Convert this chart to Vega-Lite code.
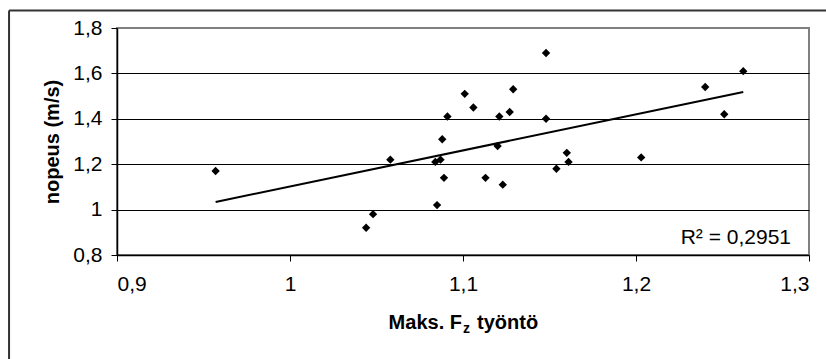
{
  "$schema": "https://vega.github.io/schema/vega-lite/v6.json",
  "width": 692,
  "height": 227,
  "autosize": {"type": "none"},
  "padding": {"left": 117, "top": 28, "right": 17, "bottom": 104},
  "background": "white",
  "config": {
    "font": "Liberation Sans",
    "view": {"stroke": "#808080", "strokeWidth": 2},
    "axis": {
      "domainColor": "black",
      "domainWidth": 1.5,
      "tickColor": "black",
      "tickWidth": 1,
      "labelColor": "black",
      "labelFont": "Liberation Sans",
      "labelFontSize": 21,
      "titleFont": "Liberation Sans",
      "titleColor": "black"
    }
  },
  "layer": [
    {
      "data": {
        "values": [
          {"fz": 0.957, "nopeus": 1.17},
          {"fz": 1.148, "nopeus": 1.69},
          {"fz": 1.101, "nopeus": 1.51},
          {"fz": 1.129, "nopeus": 1.53},
          {"fz": 1.106, "nopeus": 1.45},
          {"fz": 1.091, "nopeus": 1.41},
          {"fz": 1.121, "nopeus": 1.41},
          {"fz": 1.127, "nopeus": 1.43},
          {"fz": 1.148, "nopeus": 1.40},
          {"fz": 1.088, "nopeus": 1.31},
          {"fz": 1.120, "nopeus": 1.28},
          {"fz": 1.058, "nopeus": 1.22},
          {"fz": 1.084, "nopeus": 1.21},
          {"fz": 1.087, "nopeus": 1.22},
          {"fz": 1.160, "nopeus": 1.25},
          {"fz": 1.161, "nopeus": 1.21},
          {"fz": 1.154, "nopeus": 1.18},
          {"fz": 1.089, "nopeus": 1.14},
          {"fz": 1.113, "nopeus": 1.14},
          {"fz": 1.123, "nopeus": 1.11},
          {"fz": 1.085, "nopeus": 1.02},
          {"fz": 1.048, "nopeus": 0.98},
          {"fz": 1.044, "nopeus": 0.92},
          {"fz": 1.262, "nopeus": 1.61},
          {"fz": 1.240, "nopeus": 1.54},
          {"fz": 1.251, "nopeus": 1.42},
          {"fz": 1.203, "nopeus": 1.23}
        ]
      },
      "layer": [
        {
          "mark": {"type": "point", "shape": "diamond", "filled": true, "color": "black", "size": 70, "opacity": 1},
          "encoding": {
            "x": {
              "field": "fz", "type": "quantitative",
              "scale": {"domain": [0.9, 1.3], "nice": false, "zero": false},
              "axis": {
                "values": [0.9, 1.0, 1.1, 1.2, 1.3],
                "labelExpr": "replace(format(datum.value, '~g'), '.', ',')",
                "grid": false,
                "tickSize": 6,
                "labelPadding": 12,
                "title": null
              }
            },
            "y": {
              "field": "nopeus", "type": "quantitative",
              "scale": {"domain": [0.8, 1.8], "nice": false, "zero": false},
              "axis": {
                "values": [0.8, 1.0, 1.2, 1.4, 1.6, 1.8],
                "labelExpr": "replace(format(datum.value, '~g'), '.', ',')",
                "grid": true,
                "gridColor": {"condition": {"test": "datum.value >= 1.79 || datum.value <= 0.81", "value": "transparent"}, "value": "black"},
                "gridWidth": 1,
                "tickSize": 6,
                "labelPadding": 9,
                "labelBaseline": "middle",
                "title": "nopeus (m/s)",
                "titleFontSize": 20,
                "titleFontWeight": "bold",
                "titleAngle": -90,
                "titleX": -65,
                "titleY": 113.5,
                "titleAlign": "center",
                "titleBaseline": "middle"
              }
            }
          }
        },
        {
          "transform": [{"regression": "nopeus", "on": "fz"}],
          "mark": {"type": "line", "color": "black", "strokeWidth": 2},
          "encoding": {
            "x": {"field": "fz", "type": "quantitative", "scale": {"domain": [0.9, 1.3], "nice": false, "zero": false}},
            "y": {"field": "nopeus", "type": "quantitative", "scale": {"domain": [0.8, 1.8], "nice": false, "zero": false}}
          }
        }
      ]
    },
    {
      "data": {"values": [{}]},
      "mark": {"type": "text", "text": "R² = 0,2951", "align": "right", "baseline": "alphabetic", "fontSize": 21, "color": "black"},
      "encoding": {
        "x": {"datum": 1.2896, "type": "quantitative", "scale": {"domain": [0.9, 1.3], "nice": false, "zero": false}},
        "y": {"datum": 0.8485, "type": "quantitative", "scale": {"domain": [0.8, 1.8], "nice": false, "zero": false}}
      }
    },
    {
      "data": {"values": [{}]},
      "mark": {"type": "text", "text": "Maks. F", "align": "right", "baseline": "alphabetic", "fontSize": 20, "fontWeight": "bold", "color": "black", "clip": false},
      "encoding": {
        "x": {"datum": 1.0994, "type": "quantitative", "scale": {"domain": [0.9, 1.3], "nice": false, "zero": false}},
        "y": {"datum": 0.4740, "type": "quantitative", "scale": {"domain": [0.8, 1.8], "nice": false, "zero": false}}
      }
    },
    {
      "data": {"values": [{}]},
      "mark": {"type": "text", "text": "z", "align": "left", "baseline": "alphabetic", "fontSize": 14, "fontWeight": "bold", "color": "black", "clip": false},
      "encoding": {
        "x": {"datum": 1.1, "type": "quantitative", "scale": {"domain": [0.9, 1.3], "nice": false, "zero": false}},
        "y": {"datum": 0.4564, "type": "quantitative", "scale": {"domain": [0.8, 1.8], "nice": false, "zero": false}}
      }
    },
    {
      "data": {"values": [{}]},
      "mark": {"type": "text", "text": "työntö", "align": "left", "baseline": "alphabetic", "fontSize": 20, "fontWeight": "bold", "color": "black", "clip": false},
      "encoding": {
        "x": {"datum": 1.1081, "type": "quantitative", "scale": {"domain": [0.9, 1.3], "nice": false, "zero": false}},
        "y": {"datum": 0.4740, "type": "quantitative", "scale": {"domain": [0.8, 1.8], "nice": false, "zero": false}}
      }
    },
    {
      "data": {"values": [{}]},
      "mark": {"type": "rule", "stroke": "#333333", "strokeWidth": 2, "clip": false},
      "encoding": {
        "x": {"datum": 0.8376, "type": "quantitative", "scale": {"domain": [0.9, 1.3], "nice": false, "zero": false}},
        "y": {"datum": 0.3, "type": "quantitative", "scale": {"domain": [0.8, 1.8], "nice": false, "zero": false}},
        "y2": {"datum": 1.8771}
      }
    },
    {
      "data": {"values": [{}]},
      "mark": {"type": "rule", "stroke": "#333333", "strokeWidth": 2, "clip": false},
      "encoding": {
        "x": {"datum": 0.8376, "type": "quantitative", "scale": {"domain": [0.9, 1.3], "nice": false, "zero": false}},
        "x2": {"datum": 1.34},
        "y": {"datum": 1.8771, "type": "quantitative", "scale": {"domain": [0.8, 1.8], "nice": false, "zero": false}}
      }
    }
  ]
}
